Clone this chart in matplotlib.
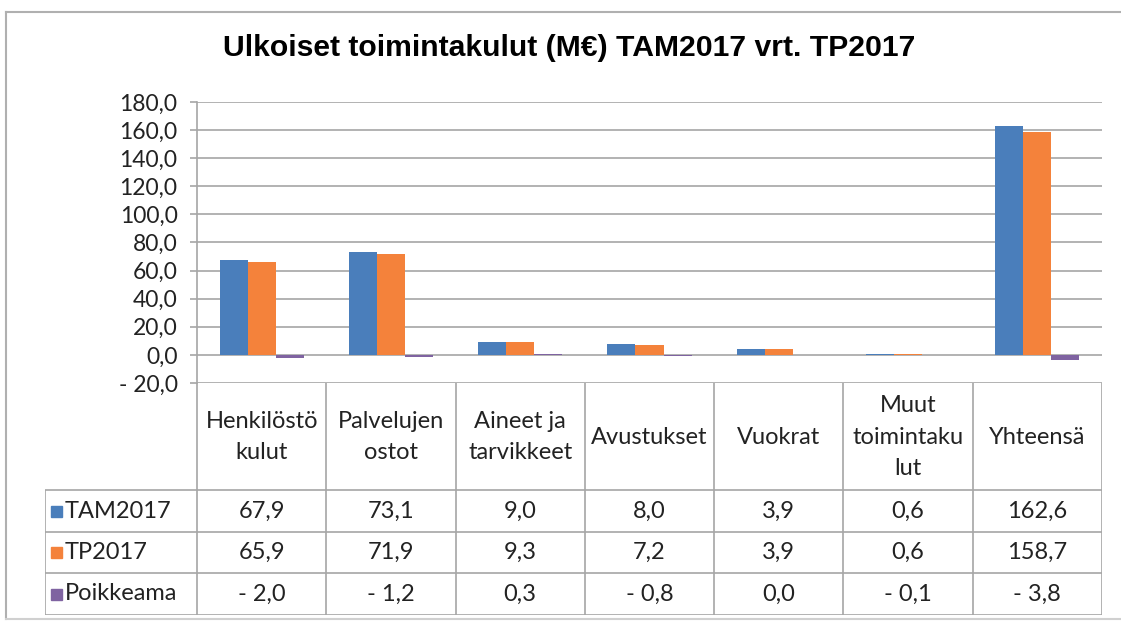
import matplotlib.pyplot as plt
from matplotlib.lines import Line2D
from matplotlib.patches import Rectangle

# data
categories = ['Henkilöstö\nkulut', 'Palvelujen\nostot', 'Aineet ja\ntarvikkeet',
              'Avustukset', 'Vuokrat', 'Muut\ntoimintaku\nlut', 'Yhteensä']
series_names = ['TAM2017', 'TP2017', 'Poikkeama']
tam2017 = [67.9, 73.1, 9.0, 8.0, 3.9, 0.6, 162.6]
tp2017 = [65.9, 71.9, 9.3, 7.2, 3.9, 0.6, 158.7]
poikkeama = [-2.0, -1.2, 0.3, -0.8, 0.0, -0.1, -3.8]
yticks = [-20, 0, 20, 40, 60, 80, 100, 120, 140, 160, 180]

colors = ['#4A7EBB', '#F4823B', '#7F63A1']
grid_c = '#A6A6A6'
font = 'Lato'


def fmt(v):
    s = f'{abs(v):.1f}'.replace('.', ',')
    return '- ' + s if v < 0 else s


W, H = 1121, 622
fig = plt.figure(figsize=(W / 100, H / 100), dpi=100)


def rect(l, t, r, b):
    return [l / W, 1 - b / H, (r - l) / W, (b - t) / H]


# outer frame
fig.add_artist(Line2D([6 / W, 1], [1 - 12 / H] * 2, color='#B0B0B0', lw=1.5))
fig.add_artist(Line2D([6 / W] * 2, [1 - 12 / H, 1 - 619 / H], color='#B0B0B0', lw=1.5))
fig.add_artist(Line2D([6 / W, 1], [1 - 619 / H] * 2, color='#D0D0D0', lw=1.5))

fig.text(569 / W, 1 - 48 / H, 'Ulkoiset toimintakulut (M€) TAM2017 vrt. TP2017',
         ha='center', va='center', fontsize=21.7, fontweight='bold',
         family=['Liberation Sans Narrow', 'Liberation Sans'])

# chart
ax = fig.add_axes(rect(197, 102, 1102, 383))
x = list(range(len(categories)))
bw = 0.217
for i, vals in enumerate([tam2017, tp2017, poikkeama]):
    ax.bar([k + (i - 1) * bw for k in x], vals, width=bw, color=colors[i], zorder=3)
ax.set_xlim(-0.5, 6.5)
ax.set_ylim(-20, 180)
ax.set_yticks(yticks)
ax.set_yticklabels([fmt(v) for v in yticks], fontsize=16.5, family=font, color='#222222')
ax.set_xticks([])
ax.grid(axis='y', color=grid_c, lw=1.2, zorder=0)
for s in ['top', 'right', 'bottom']:
    ax.spines[s].set_visible(False)
ax.spines['left'].set_color(grid_c)
ax.spines['left'].set_linewidth(1.2)
ax.tick_params(axis='y', length=5, color=grid_c, width=1.2, pad=9)

# data table
colw = (1102 - 197) / 7
tx0 = -0.5 - (197 - 45) / colw
tab = fig.add_axes(rect(45, 383, 1102, 615))
tab.set_xlim(tx0, 6.5)
tab.set_ylim(232, 0)
tab.axis('off')
lk = dict(color=grid_c, lw=1.2, solid_capstyle='butt')
rows = [0, 107, 149, 190, 232]
for k in range(8):
    tab.plot([k - 0.5, k - 0.5], [0, 232], **lk)
tab.plot([tx0, tx0], [107, 232], **lk)
for r in rows[1:]:
    tab.plot([tx0, 6.5], [r, r], **lk)

fs = 17
for k, c in enumerate(categories):
    tab.text(k, 54, c, ha='center', va='center', fontsize=fs, family=font,
             color='#222222', linespacing=1.6)

for j, (name, vals) in enumerate(zip(series_names, [tam2017, tp2017, poikkeama])):
    yc = (rows[j + 1] + rows[j + 2]) / 2
    tab.add_patch(Rectangle((tx0 + 6 / colw, yc - 5.5), 11 / colw, 11, color=colors[j]))
    tab.text(tx0 + 20 / colw, yc, name, ha='left', va='center', fontsize=fs,
             family=font, color='#222222')
    for k, v in enumerate(vals):
        tab.text(k, yc, fmt(v), ha='center', va='center', fontsize=fs,
                 family=font, color='#222222')

fig.savefig('out.png', dpi=100)
